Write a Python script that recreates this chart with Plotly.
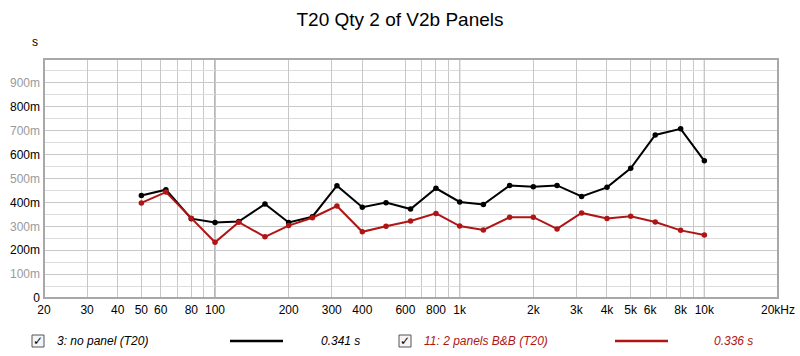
import plotly.graph_objects as go

freqs = [50, 63, 80, 100, 125, 160, 200, 250, 315, 400, 500, 630, 800,
         1000, 1250, 1600, 2000, 2500, 3150, 4000, 5000, 6300, 8000, 10000]
no_panel = [0.429, 0.453, 0.332, 0.316, 0.320, 0.393, 0.316, 0.340, 0.470, 0.380, 0.399, 0.372, 0.459,
            0.402, 0.391, 0.471, 0.465, 0.471, 0.425, 0.463, 0.543, 0.682, 0.708, 0.574]
two_panels = [0.398, 0.443, 0.334, 0.233, 0.317, 0.256, 0.303, 0.336, 0.385, 0.277, 0.300, 0.322, 0.354,
              0.301, 0.285, 0.338, 0.338, 0.289, 0.356, 0.333, 0.342, 0.318, 0.283, 0.264]
series_names = ["3: no panel (T20)", "11: 2 panels B&B (T20)"]
series_summary = ["0.341 s", "0.336 s"]
series_colors = ["#000000", "#b01515"]

x_tickvals = [20, 30, 40, 50, 60, 80, 100, 200, 300, 400, 600, 800, 1000,
              2000, 3000, 4000, 5000, 6000, 8000, 10000, 20000]
x_ticktext = ["20", "30", "40", "50", "60", "80", "100", "200", "300", "400", "600", "800", "1k",
              "2k", "3k", "4k", "5k", "6k", "8k", "10k", "20kHz"]
x_minor = [70, 90, 700, 900, 7000, 9000]
x_decades = [100, 1000, 10000]
y_tickvals = [0, 0.1, 0.2, 0.3, 0.4, 0.5, 0.6, 0.7, 0.8, 0.9]
y_ticklabels = ["0", "100m", "200m", "300m", "400m", "500m", "600m", "700m", "800m", "900m"]

y_ticktext = []
for i, t in enumerate(y_ticklabels):
    col = "#000000" if i % 2 == 0 else "#9a9a9a"
    y_ticktext.append(f'<span style="color:{col}">{t}</span>')

fig = go.Figure()
for vals, name, col in zip([no_panel, two_panels], series_names, series_colors):
    fig.add_trace(go.Scatter(x=freqs, y=vals, mode="lines+markers", name=name,
                             line=dict(color=col, width=2),
                             marker=dict(color=col, size=5.5), cliponaxis=False))

for f in x_decades:
    fig.add_shape(type="line", xref="x", yref="paper", x0=f, x1=f, y0=0, y1=1,
                  line=dict(color="#6e6e6e", width=1), layer="between")

# plot border
fig.add_shape(type="rect", xref="paper", yref="paper", x0=0, x1=1, y0=0, y1=1,
              line=dict(color="#a8a8a8", width=2), layer="above")

fig.update_layout(
    width=800, height=356,
    margin=dict(l=44, r=22, t=59, b=58, autoexpand=False),
    paper_bgcolor="white", plot_bgcolor="white",
    font=dict(family="Liberation Sans, Arial, sans-serif", size=12, color="#000"),
    title=dict(text="T20 Qty 2 of V2b Panels", x=0.5, xanchor="center", y=0.945, yanchor="middle",
               font=dict(size=19, color="#000")),
    showlegend=False,
    xaxis=dict(type="log", range=[1.30103, 4.30103], automargin=False,
               tickmode="array", tickvals=x_tickvals, ticktext=x_ticktext,
               showgrid=True, gridcolor="#c8c8c8", gridwidth=1,
               minor=dict(tickmode="array", tickvals=x_minor, showgrid=True,
                          gridcolor="#c8c8c8", gridwidth=1, ticks=""),
               ticks="", zeroline=False, showline=False, ticklabelstandoff=3,
               tickfont=dict(size=12, color="#000")),
    yaxis=dict(range=[0, 1.0], tickmode="array", tickvals=y_tickvals, ticktext=y_ticktext,
               automargin=False,
               showgrid=True, gridcolor="#c8c8c8", gridwidth=1,
               minor=dict(dtick=0.05, showgrid=True, gridcolor="#dcdcdc", gridwidth=1, ticks=""),
               ticks="", zeroline=False, showline=False, ticklabelstandoff=3,
               tickfont=dict(size=12, color="#000")),
)

fig.add_annotation(text="s", xref="paper", yref="paper", x=-0.012, y=1.035,
                   xanchor="center", yanchor="bottom", showarrow=False,
                   font=dict(size=12, color="#000"))

# legend row
legend_layout = [
    dict(box=38, text=55, line0=230, line1=283, val=362),
    dict(box=405, text=422, line0=615, line1=668, val=755),
]
leg_y = 341
for name, summ, col, pos in zip(series_names, series_summary, series_colors, legend_layout):
    txtcol = "#000" if col == "#000000" else col
    fig.add_shape(type="rect", xref="paper", yref="paper",
                  x0=(pos["box"] - 44 - 6) / 734, x1=(pos["box"] - 44 + 6) / 734,
                  y0=(298 - leg_y - 6) / 239, y1=(298 - leg_y + 6) / 239,
                  line=dict(color="#555", width=1), fillcolor="#f4f4f4")
    fig.add_annotation(text="✓", xref="paper", yref="paper",
                       x=(pos["box"] - 44) / 734, y=(298 - leg_y) / 239,
                       xanchor="center", yanchor="middle", showarrow=False,
                       font=dict(size=12, color="#000", family="DejaVu Sans"))
    fig.add_annotation(text=f"<i>{name}</i>", xref="paper", yref="paper",
                       x=(pos["text"] - 44) / 734, y=(298 - leg_y) / 239,
                       xanchor="left", yanchor="middle", showarrow=False,
                       font=dict(size=12, color=txtcol))
    fig.add_shape(type="line", xref="paper", yref="paper",
                  x0=(pos["line0"] - 44) / 734, x1=(pos["line1"] - 44) / 734,
                  y0=(298 - leg_y) / 239, y1=(298 - leg_y) / 239,
                  line=dict(color=col, width=2.5))
    fig.add_annotation(text=f"<i>{summ}</i>", xref="paper", yref="paper",
                       x=(pos["val"] - 44) / 734, y=(298 - leg_y) / 239,
                       xanchor="right", yanchor="middle", showarrow=False,
                       font=dict(size=12, color=txtcol))

fig.write_html("out.html", config={"displayModeBar": False},
               post_script="document.body.style.margin='0';document.body.style.overflow='hidden';")
